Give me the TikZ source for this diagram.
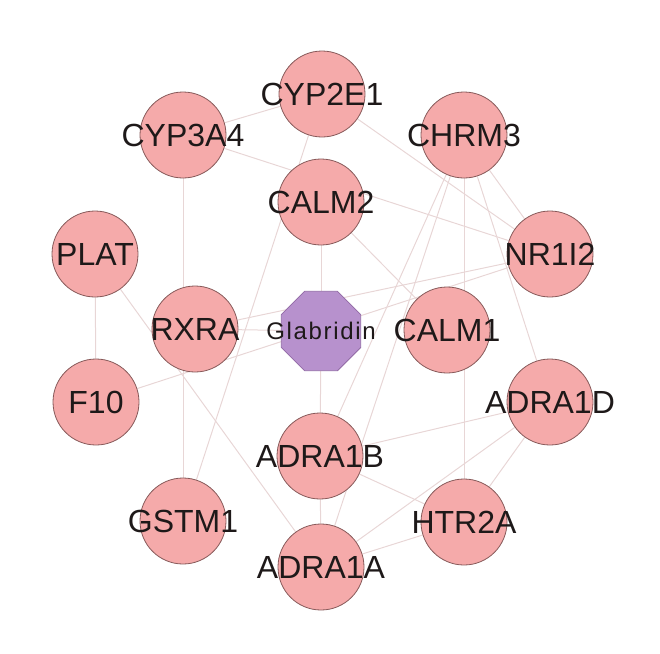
\documentclass[tikz,border=0pt]{standalone}
\usepackage{fontspec}
\setmainfont{Liberation Sans}
\usetikzlibrary{shapes.geometric,backgrounds}
\definecolor{nodefill}{RGB}{245,170,170}
\definecolor{nodeline}{RGB}{135,90,90}
\definecolor{glafill}{RGB}{183,145,205}
\definecolor{glaline}{RGB}{145,105,165}
\definecolor{edgecol}{RGB}{232,214,214}
\definecolor{txt}{RGB}{30,25,25}
\begin{document}
\begin{tikzpicture}[x=1pt,y=-1pt,
 target/.style={circle,draw=nodeline,fill=nodefill,line width=0.8pt,minimum size=86pt,inner sep=0pt},
 lab/.style={text=txt,inner sep=0pt,font=\fontsize{32}{34}\selectfont},
 drug/.style={regular polygon,regular polygon sides=8,draw=glaline,fill=glafill,line width=0.8pt,minimum size=86pt,inner sep=0pt},
 druglab/.style={text=txt,inner sep=0pt,font=\fontsize{24}{26}\selectfont\addfontfeature{LetterSpace=7}},
 link/.style={draw=edgecol,line width=1pt}]
\useasboundingbox (0,0) rectangle (660,653);

\node[target,label={[lab]center:CYP2E1}] (cyp2e1) at (322,94) {};
\node[target,label={[lab]center:CYP3A4}] (cyp3a4) at (183,135) {};
\node[target,label={[lab]center:CHRM3}] (chrm3) at (464,135) {};
\node[target,label={[lab]center:CALM2}] (calm2) at (321,202) {};
\node[target,label={[lab]center:PLAT}] (plat) at (95,254) {};
\node[target,label={[lab]center:NR1I2}] (nr1i2) at (550,254) {};
\node[target,label={[lab]center:RXRA}] (rxra) at (195,329) {};
\node[drug,label={[druglab]center:Glabridin}] (glab) at (321,331) {};
\node[target,label={[lab]center:CALM1}] (calm1) at (447,330) {};
\node[target,label={[lab]center:F10}] (f10) at (96,402) {};
\node[target,label={[lab]center:ADRA1D}] (adra1d) at (550,402) {};
\node[target,label={[lab]center:ADRA1B}] (adra1b) at (320,456) {};
\node[target,label={[lab]center:GSTM1}] (gstm1) at (183,521) {};
\node[target,label={[lab]center:HTR2A}] (htr2a) at (464,522) {};
\node[target,label={[lab]center:ADRA1A}] (adra1a) at (321,567) {};

\begin{scope}[on background layer]
\draw[link] (cyp3a4) -- (cyp2e1);
\draw[link] (cyp3a4) -- (nr1i2);
\draw[link] (cyp3a4) -- (gstm1);
\draw[link] (cyp2e1) -- (gstm1);
\draw[link] (cyp2e1) -- (nr1i2);
\draw[link] (calm2) -- (glab);
\draw[link] (calm2) -- (calm1);
\draw[link] (chrm3) -- (nr1i2);
\draw[link] (chrm3) -- (adra1d);
\draw[link] (chrm3) -- (htr2a);
\draw[link] (chrm3) -- (adra1b);
\draw[link] (chrm3) -- (adra1a);
\draw[link] (nr1i2) -- (rxra);
\draw[link] (f10) -- (nr1i2);
\draw[link] (plat) -- (f10);
\draw[link] (plat) -- (adra1a);
\draw[link] (rxra) -- (glab);
\draw[link] (glab) -- (adra1b);
\draw[link] (adra1b) -- (adra1a);
\draw[link] (adra1b) -- (htr2a);
\draw[link] (adra1b) -- (adra1d);
\draw[link] (adra1a) -- (htr2a);
\draw[link] (adra1a) -- (adra1d);
\draw[link] (htr2a) -- (adra1d);
\end{scope}
\end{tikzpicture}
\end{document}
